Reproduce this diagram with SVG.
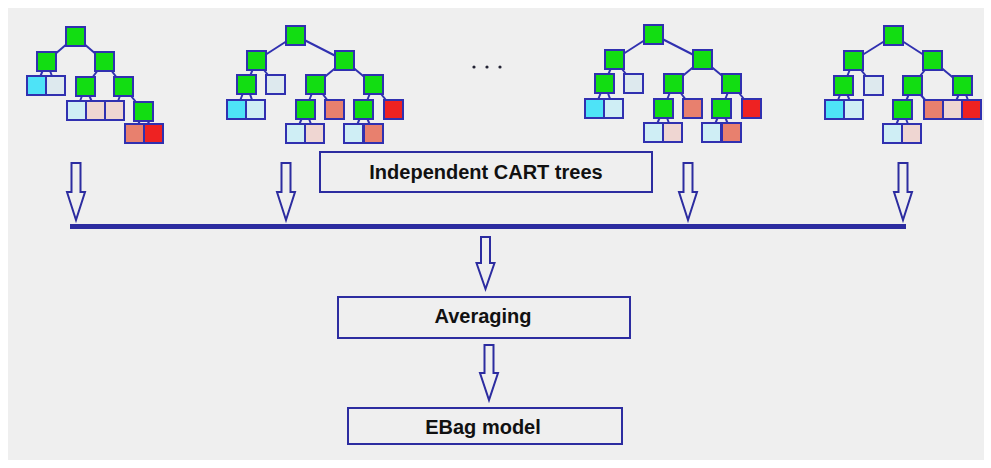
<svg xmlns="http://www.w3.org/2000/svg" width="991" height="468" viewBox="0 0 991 468">
<style>
.n{stroke:#3030b0;stroke-width:2}
.g{fill:#12dd12}.c{fill:#4ee3f7}.lb{fill:#cfeef5}.l0{fill:#dde9ee}.lp{fill:#efd6d2}.s{fill:#e8806e}.r{fill:#ee2222}
.e{stroke:#3030b0;stroke-width:2;fill:none}
.box{fill:none;stroke:#2c2ca0;stroke-width:2}
.arr{fill:none;stroke:#2c2ca0;stroke-width:2;stroke-linejoin:miter}
.t{font-family:"Liberation Sans",Arial,sans-serif;font-weight:bold;font-size:20px;fill:#111;text-anchor:middle}
</style>
<rect width="991" height="468" fill="#ffffff"/>
<rect x="8" y="8" width="976" height="452" fill="#efefef"/>

<g id="tree1">
  <g class="e">
    <line x1="75.5" y1="36.5" x2="46.5" y2="61.5"/><line x1="75.5" y1="36.5" x2="104.5" y2="61.5"/>
    <line x1="46.5" y1="61.5" x2="36.5" y2="85.5"/><line x1="46.5" y1="61.5" x2="55.5" y2="85.5"/>
    <line x1="104.5" y1="61.5" x2="85.5" y2="86.5"/><line x1="104.5" y1="61.5" x2="123.5" y2="86.5"/>
    <line x1="85.5" y1="86.5" x2="76.5" y2="110.5"/><line x1="85.5" y1="86.5" x2="95.5" y2="110.5"/>
    <line x1="123.5" y1="86.5" x2="114.5" y2="110.5"/><line x1="123.5" y1="86.5" x2="143.5" y2="111.5"/>
    <line x1="143.5" y1="111.5" x2="134.5" y2="133.5"/><line x1="143.5" y1="111.5" x2="153.5" y2="133.5"/>
  </g>
  <rect class="n g" x="66" y="27" width="19" height="19"/>
  <rect class="n g" x="37" y="52" width="19" height="19"/>
  <rect class="n g" x="95" y="52" width="19" height="19"/>
  <rect class="n c" x="27" y="76" width="19" height="19"/>
  <rect class="n l0" x="46" y="76" width="19" height="19"/>
  <rect class="n g" x="76" y="77" width="19" height="19"/>
  <rect class="n g" x="114" y="77" width="19" height="19"/>
  <rect class="n lb" x="67" y="101" width="19" height="19"/>
  <rect class="n lp" x="86" y="101" width="19" height="19"/>
  <rect class="n lp" x="105" y="101" width="19" height="19"/>
  <rect class="n g" x="134" y="102" width="19" height="19"/>
  <rect class="n s" x="125" y="124" width="19" height="19"/>
  <rect class="n r" x="144" y="124" width="19" height="19"/>
</g>

<g id="tree2">
  <g class="e">
    <line x1="295.5" y1="35.5" x2="256.5" y2="60.5"/><line x1="295.5" y1="35.5" x2="344.5" y2="60.5"/>
    <line x1="256.5" y1="60.5" x2="246.5" y2="84.5"/><line x1="256.5" y1="60.5" x2="275.5" y2="84.5"/>
    <line x1="344.5" y1="60.5" x2="315.5" y2="84.5"/><line x1="344.5" y1="60.5" x2="373.5" y2="84.5"/>
    <line x1="246.5" y1="84.5" x2="236.5" y2="109.5"/><line x1="246.5" y1="84.5" x2="255.5" y2="109.5"/>
    <line x1="315.5" y1="84.5" x2="305.5" y2="109.5"/><line x1="315.5" y1="84.5" x2="334.5" y2="109.5"/>
    <line x1="373.5" y1="84.5" x2="363.5" y2="109.5"/><line x1="373.5" y1="84.5" x2="393.5" y2="109.5"/>
    <line x1="305.5" y1="109.5" x2="295.5" y2="133.5"/><line x1="305.5" y1="109.5" x2="314.5" y2="133.5"/>
    <line x1="363.5" y1="109.5" x2="353.5" y2="133.5"/><line x1="363.5" y1="109.5" x2="373.5" y2="133.5"/>
  </g>
  <rect class="n g" x="286" y="26" width="19" height="19"/>
  <rect class="n g" x="247" y="51" width="19" height="19"/>
  <rect class="n g" x="335" y="51" width="19" height="19"/>
  <rect class="n g" x="237" y="75" width="19" height="19"/>
  <rect class="n l0" x="266" y="75" width="19" height="19"/>
  <rect class="n g" x="306" y="75" width="19" height="19"/>
  <rect class="n g" x="364" y="75" width="19" height="19"/>
  <rect class="n c" x="227" y="100" width="19" height="19"/>
  <rect class="n lb" x="246" y="100" width="19" height="19"/>
  <rect class="n g" x="296" y="100" width="19" height="19"/>
  <rect class="n s" x="325" y="100" width="19" height="19"/>
  <rect class="n g" x="354" y="100" width="19" height="19"/>
  <rect class="n r" x="384" y="100" width="19" height="19"/>
  <rect class="n lb" x="286" y="124" width="19" height="19"/>
  <rect class="n lp" x="305" y="124" width="19" height="19"/>
  <rect class="n lb" x="344" y="124" width="19" height="19"/>
  <rect class="n s" x="364" y="124" width="19" height="19"/>
</g>

<g id="tree3" transform="translate(358,-1)">
  <g class="e">
    <line x1="295.5" y1="35.5" x2="256.5" y2="60.5"/><line x1="295.5" y1="35.5" x2="344.5" y2="60.5"/>
    <line x1="256.5" y1="60.5" x2="246.5" y2="84.5"/><line x1="256.5" y1="60.5" x2="275.5" y2="84.5"/>
    <line x1="344.5" y1="60.5" x2="315.5" y2="84.5"/><line x1="344.5" y1="60.5" x2="373.5" y2="84.5"/>
    <line x1="246.5" y1="84.5" x2="236.5" y2="109.5"/><line x1="246.5" y1="84.5" x2="255.5" y2="109.5"/>
    <line x1="315.5" y1="84.5" x2="305.5" y2="109.5"/><line x1="315.5" y1="84.5" x2="334.5" y2="109.5"/>
    <line x1="373.5" y1="84.5" x2="363.5" y2="109.5"/><line x1="373.5" y1="84.5" x2="393.5" y2="109.5"/>
    <line x1="305.5" y1="109.5" x2="295.5" y2="133.5"/><line x1="305.5" y1="109.5" x2="314.5" y2="133.5"/>
    <line x1="363.5" y1="109.5" x2="353.5" y2="133.5"/><line x1="363.5" y1="109.5" x2="373.5" y2="133.5"/>
  </g>
  <rect class="n g" x="286" y="26" width="19" height="19"/>
  <rect class="n g" x="247" y="51" width="19" height="19"/>
  <rect class="n g" x="335" y="51" width="19" height="19"/>
  <rect class="n g" x="237" y="75" width="19" height="19"/>
  <rect class="n l0" x="266" y="75" width="19" height="19"/>
  <rect class="n g" x="306" y="75" width="19" height="19"/>
  <rect class="n g" x="364" y="75" width="19" height="19"/>
  <rect class="n c" x="227" y="100" width="19" height="19"/>
  <rect class="n lb" x="246" y="100" width="19" height="19"/>
  <rect class="n g" x="296" y="100" width="19" height="19"/>
  <rect class="n s" x="325" y="100" width="19" height="19"/>
  <rect class="n g" x="354" y="100" width="19" height="19"/>
  <rect class="n r" x="384" y="100" width="19" height="19"/>
  <rect class="n lb" x="286" y="124" width="19" height="19"/>
  <rect class="n lp" x="305" y="124" width="19" height="19"/>
  <rect class="n lb" x="344" y="124" width="19" height="19"/>
  <rect class="n s" x="364" y="124" width="19" height="19"/>
</g>

<g id="tree4">
  <g class="e">
    <line x1="893.5" y1="35.5" x2="853.5" y2="60.5"/><line x1="893.5" y1="35.5" x2="932.5" y2="60.5"/>
    <line x1="853.5" y1="60.5" x2="843.5" y2="85.5"/><line x1="853.5" y1="60.5" x2="873.5" y2="85.5"/>
    <line x1="932.5" y1="60.5" x2="912.5" y2="85.5"/><line x1="932.5" y1="60.5" x2="962.5" y2="85.5"/>
    <line x1="843.5" y1="85.5" x2="834.5" y2="109.5"/><line x1="843.5" y1="85.5" x2="853.5" y2="109.5"/>
    <line x1="912.5" y1="85.5" x2="902.5" y2="109.5"/><line x1="912.5" y1="85.5" x2="933.5" y2="109.5"/>
    <line x1="962.5" y1="85.5" x2="952.5" y2="109.5"/><line x1="962.5" y1="85.5" x2="971.5" y2="109.5"/>
    <line x1="902.5" y1="109.5" x2="892.5" y2="133.5"/><line x1="902.5" y1="109.5" x2="911.5" y2="133.5"/>
  </g>
  <rect class="n g" x="884" y="26" width="19" height="19"/>
  <rect class="n g" x="844" y="51" width="19" height="19"/>
  <rect class="n g" x="923" y="51" width="19" height="19"/>
  <rect class="n g" x="834" y="76" width="19" height="19"/>
  <rect class="n l0" x="864" y="76" width="19" height="19"/>
  <rect class="n g" x="903" y="76" width="19" height="19"/>
  <rect class="n g" x="953" y="76" width="19" height="19"/>
  <rect class="n c" x="825" y="100" width="19" height="19"/>
  <rect class="n lb" x="844" y="100" width="19" height="19"/>
  <rect class="n g" x="893" y="100" width="19" height="19"/>
  <rect class="n s" x="924" y="100" width="19" height="19"/>
  <rect class="n lp" x="943" y="100" width="19" height="19"/>
  <rect class="n r" x="962" y="100" width="19" height="19"/>
  <rect class="n lb" x="883" y="124" width="19" height="19"/>
  <rect class="n lp" x="902" y="124" width="19" height="19"/>
</g>

<g id="ellipsis" fill="#223">
  <circle cx="474" cy="67" r="1.6"/><circle cx="487" cy="67" r="1.6"/><circle cx="500" cy="67" r="1.6"/>
</g>

<g id="connectors">
  <line x1="70" y1="226.5" x2="906" y2="226.5" stroke="#2c2ca0" stroke-width="5"/>
  <polygon class="arr" points="71.5,163 80.5,163 80.5,192 85,192 76,220 67,192 71.5,192"/>
  <polygon class="arr" points="281.5,163 290.5,163 290.5,192 295,192 286,220 277,192 281.5,192"/>
  <polygon class="arr" points="683.5,163 692.5,163 692.5,192 697,192 688,220 679,192 683.5,192"/>
  <polygon class="arr" points="898.5,163 907.5,163 907.5,192 912,192 903,220 894,192 898.5,192"/>
  <polygon class="arr" points="481,237 490,237 490,263 494.5,263 485.5,289 476.5,263 481,263"/>
  <polygon class="arr" points="484.5,345 493.5,345 493.5,373 498,373 489,400 480,373 484.5,373"/>
</g>

<g id="cart">
  <rect class="box" x="320" y="152" width="332" height="40"/>
  <text class="t" x="486" y="179">Independent CART trees</text>
</g>
<g id="averaging">
  <rect class="box" x="338" y="297" width="292" height="41"/>
  <text class="t" x="483" y="323">Averaging</text>
</g>
<g id="ebag">
  <rect class="box" x="348" y="408" width="274" height="36"/>
  <text class="t" x="483" y="434">EBag model</text>
</g>
</svg>
